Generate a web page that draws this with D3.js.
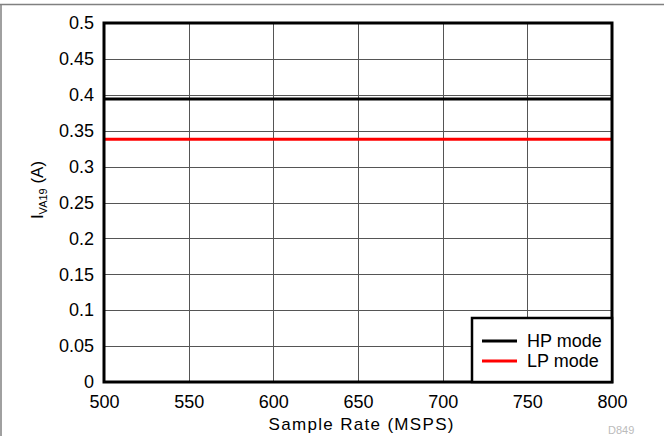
<!DOCTYPE html>
<html><head><meta charset="utf-8">
<script src="https://cdn.jsdelivr.net/npm/d3@7"></script>
<style>body{margin:0;background:#fff}svg{display:block;font-family:"Liberation Sans",Arial,sans-serif}</style>
</head><body><svg id="c" width="664" height="436"></svg>
<script>
const xTicks = [500, 550, 600, 650, 700, 750, 800];
const yTicks = [0, 0.05, 0.1, 0.15, 0.2, 0.25, 0.3, 0.35, 0.4, 0.45, 0.5];
const sampleRates = [500, 550, 600, 650, 700, 750, 800];
const hpMode = [0.394, 0.394, 0.394, 0.394, 0.394, 0.394, 0.394];
const lpMode = [0.338, 0.338, 0.338, 0.338, 0.338, 0.338, 0.338];
const seriesNames = ["HP mode", "LP mode"];
const seriesColors = ["#000000", "#ff0000"];

const svg = d3.select("#c");
const m = {l: 104, r: 612, t: 23, b: 382};
const x = d3.scaleLinear().domain([500, 800]).range([m.l, m.r]);
const y = d3.scaleLinear().domain([0, 0.5]).range([m.b, m.t]);

// outer frame (top and left)
svg.append("line").attr("x1", 0).attr("x2", 664).attr("y1", 4.5).attr("y2", 4.5).attr("stroke", "#808080").attr("stroke-width", 1.5);
svg.append("line").attr("x1", 1).attr("x2", 1).attr("y1", 4).attr("y2", 436).attr("stroke", "#808080").attr("stroke-width", 1.5);

// grid
const g = svg.append("g");
g.selectAll(".gy").data(yTicks).join("line").attr("x1", m.l).attr("x2", m.r)
  .attr("y1", d => Math.round(y(d)) + 0.5).attr("y2", d => Math.round(y(d)) + 0.5)
  .attr("stroke", "#555").attr("stroke-width", 1);
g.selectAll(".gx").data(xTicks).join("line").attr("y1", m.t).attr("y2", m.b)
  .attr("x1", d => Math.round(x(d)) + 0.5).attr("x2", d => Math.round(x(d)) + 0.5)
  .attr("stroke", "#555").attr("stroke-width", 1);

// axes labels
const yAxis = d3.axisLeft(y).tickValues(yTicks).tickFormat(d => d3.format("")(+d.toFixed(2))).tickSize(0).tickPadding(10);
const ya = svg.append("g").attr("transform", `translate(${m.l},0)`).call(yAxis);
ya.select(".domain").remove();
ya.selectAll("text").attr("font-size", 18).attr("fill", "#000").attr("font-family", "Liberation Sans, Arial, sans-serif");

const xAxis = d3.axisBottom(x).tickValues(xTicks).tickFormat(d3.format("d")).tickSize(0).tickPadding(13);
const xa = svg.append("g").attr("transform", `translate(0,${m.b})`).call(xAxis);
xa.select(".domain").remove();
xa.selectAll("text").attr("font-size", 18).attr("fill", "#000").attr("font-family", "Liberation Sans, Arial, sans-serif");

// series
const line = d3.line().x((d, i) => x(sampleRates[i])).y(d => y(d));
[hpMode, lpMode].forEach((s, i) => {
  svg.append("path").datum(s).attr("d", line).attr("fill", "none")
    .attr("stroke", seriesColors[i]).attr("stroke-width", 3);
});

// plot frame
svg.append("rect").attr("x", m.l).attr("y", m.t).attr("width", m.r - m.l).attr("height", m.b - m.t)
  .attr("fill", "none").attr("stroke", "#000").attr("stroke-width", 3);

// legend
const lg = svg.append("g");
lg.append("rect").attr("x", 472).attr("y", 318).attr("width", m.r - 472).attr("height", m.b - 318)
  .attr("fill", "#fff").attr("stroke", "#000").attr("stroke-width", 2.5);
seriesNames.forEach((n, i) => {
  const yy = 341 + i * 20;
  lg.append("line").attr("x1", 482).attr("x2", 517).attr("y1", yy).attr("y2", yy)
    .attr("stroke", seriesColors[i]).attr("stroke-width", 3);
  lg.append("text").attr("x", 527).attr("y", yy).attr("dy", "0.35em").attr("font-size", 18).text(n);
});

// axis titles
svg.append("text").attr("x", 361).attr("y", 430).attr("text-anchor", "middle").attr("font-size", 17)
  .attr("textLength", 185).text("Sample Rate (MSPS)");
const yt = svg.append("text").attr("transform", "translate(43,190) rotate(-90)").attr("text-anchor", "middle").attr("font-size", 17);
yt.append("tspan").text("I");
yt.append("tspan").attr("font-size", 11).attr("dy", 4).text("VA19");
yt.append("tspan").attr("dy", -4).text(" (A)");

svg.append("text").attr("x", 608).attr("y", 434).attr("font-size", 11).attr("fill", "#bbb").text("D849");
</script></body></html>
